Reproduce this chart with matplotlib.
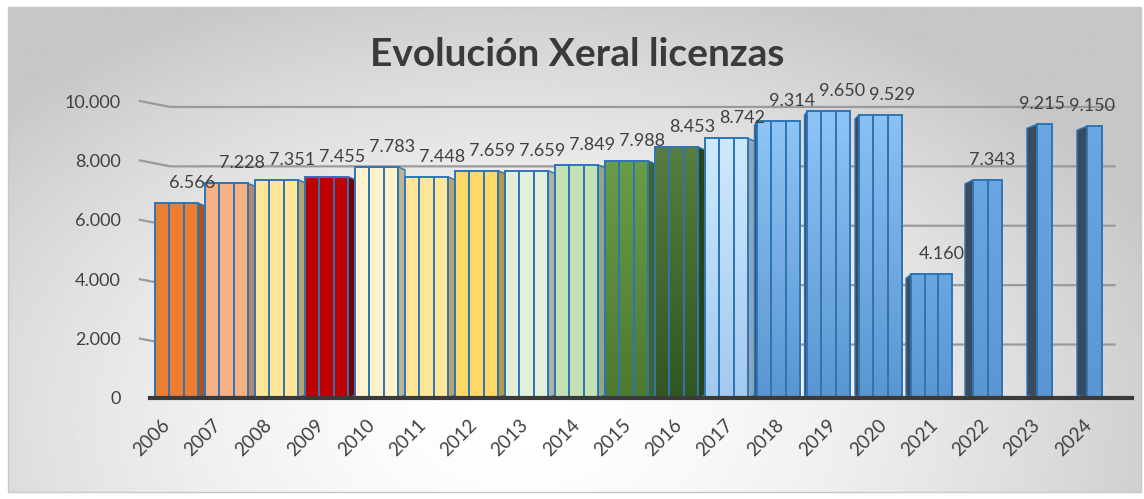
import numpy as np
import matplotlib.pyplot as plt
import matplotlib.transforms as mtransforms
from matplotlib.colors import LinearSegmentedColormap
from matplotlib.patches import Rectangle

# Chart data
years = ['2006', '2007', '2008', '2009', '2010', '2011', '2012', '2013', '2014', '2015',
         '2016', '2017', '2018', '2019', '2020', '2021', '2022', '2023', '2024']
licenzas = [6566, 7228, 7351, 7455, 7783, 7448, 7659, 7659, 7849, 7988,
            8453, 8742, 9314, 9650, 9529, 4160, 7343, 9215, 9150]
value_labels = ['6.566', '7.228', '7.351', '7.455', '7.783', '7.448', '7.659', '7.659', '7.849', '7.988',
                '8.453', '8.742', '9.314', '9.650', '9.529', '4.160', '7.343', '9.215', '9.150']
y_ticks = [0, 2000, 4000, 6000, 8000, 10000]
y_tick_labels = ['0', '2.000', '4.000', '6.000', '8.000', '10.000']

# bar fill colours (top, bottom) - same colour means flat fill
colors = [('#ED7D31', '#ED7D31'), ('#F4B183', '#F4B183'), ('#FFE699', '#FFE699'),
          ('#C00000', '#C00000'), ('#FFF2CC', '#FFF2CC'), ('#FFE699', '#FFE699'),
          ('#FFD966', '#FFD966'), ('#E2F0D9', '#E2F0D9'), ('#C5E0B4', '#C5E0B4'),
          ('#6A9C46', '#4C7A2F'), ('#587D3C', '#335520'), ('#CDE9FF', '#A3C9EF'),
          ('#8EC4F5', '#5B96D2'), ('#8EC4F5', '#5B96D2'), ('#8AC0F2', '#5B96D2'),
          ('#6AA7E0', '#5B96D2'), ('#6AA7E0', '#5B96D2'), ('#6AA7E0', '#5B96D2'),
          ('#6AA7E0', '#5B96D2')]
side_colors = ['#A55423', '#B9866A', '#B5A56E', '#7A0000', '#BDB493', '#B5A56E', '#B59B4A',
               '#A9B4A2', '#91A684', '#3F6328', '#2A4419', '#8BA6C0',
               '#3A4B60', '#3A4B60', '#3A4B60', '#3A4B60', '#3A4B60', '#3A4B60', '#3A4B60']

# pseudo-3D shapes: (front left, front right, side width, side on right?, stripes)
shapes = [(-0.44, 0.42, 0.14, True, 3)] * 12 + \
         [(-0.40, 0.46, 0.05, False, 3)] * 2 + \
         [(-0.36, 0.50, 0.08, False, 3), (-0.32, 0.50, 0.10, False, 3),
          (-0.08, 0.50, 0.16, False, 2), (0.20, 0.50, 0.20, False, 1),
          (0.20, 0.50, 0.20, False, 1)]

PX = 1 / 0.0297          # data units per pixel on y
text_col = '#404040'
edge_col = '#2E75B6'

fig = plt.figure(figsize=(11.44, 4.99), dpi=100)

# background: radial gray gradient inside a thin border
bg = fig.add_axes([0, 0, 1, 1], zorder=-2)
gx, gy = np.meshgrid(np.linspace(0, 1, 600), np.linspace(0, 1, 300))
r = np.sqrt(((gx - 0.45) / 0.62) ** 2 + ((gy - 0.85) / 0.95) ** 2)
shade = 1 - 0.22 * np.clip(r, 0, 1) ** 1.6
bg.imshow(shade, cmap='gray', vmin=0, vmax=1, aspect='auto',
          extent=[8 / 1144, 1141 / 1144, 7 / 499, 492 / 499], origin='upper')
bg.add_patch(Rectangle((8 / 1144, 7 / 499), 1133 / 1144, 485 / 499,
                       fill=False, edgecolor='#c8c8c8', lw=1))
bg.set_xlim(0, 1)
bg.set_ylim(0, 1)
bg.axis('off')

ax = fig.add_axes([140 / 1144, 101 / 499, 995 / 1144, 297 / 499])
ax.set_facecolor('none')
xlim = ((140 - 177) / 50, (1135 - 177) / 50)

# gridlines on the back wall, slanting in from the axis
back = 200
x0 = xlim[0]
x_in = x0 + 0.6
for t in y_ticks[1:]:
    ax.plot([x0, x_in, 18.75], [t, t - back, t - back], color='#9a9a9a', lw=1.6,
            zorder=1, clip_on=False)

# floor
ax.fill_between([x0 + 0.2, 18.9], [-back, -back], [0, 0], color='#c0c0c0', zorder=1)
ax.plot([x0 + 0.2, 19.1], [0, 0], color='#3a3a3a', lw=3, zorder=5, clip_on=False)

# bars
for i, v in enumerate(licenzas):
    a, b, s, right, n = shapes[i]
    a, b = i + a, i + b
    if right:
        side = [(b, 0), (b + s, 3 * PX), (b + s, v - 3 * PX), (b, v)]
    else:
        side = [(a, 0), (a - s, 3 * PX), (a - s, v - 4 * PX), (a, v)]
    sx, sy = zip(*side)
    ax.fill(sx, sy, facecolor=side_colors[i], edgecolor=edge_col, lw=1, zorder=2)
    top, bottom = colors[i]
    w = (b - a) / n
    for k in range(n):
        if top == bottom:
            ax.bar(a + k * w, v, width=w, align='edge', color=top,
                   edgecolor=edge_col, lw=1.4, zorder=3)
        else:
            cmap = LinearSegmentedColormap.from_list('g', [bottom, top])
            ax.imshow(np.linspace(0, 1, 50).reshape(-1, 1), cmap=cmap, origin='lower',
                      extent=[a + k * w, a + (k + 1) * w, 0, v], aspect='auto', zorder=3)
            ax.bar(a + k * w, v, width=w, align='edge', facecolor='none',
                   edgecolor=edge_col, lw=1.4, zorder=3.5)
    # value label
    ax.text(i + 0.3, v + 20 * PX, value_labels[i], ha='center', va='center',
            fontsize=13, color=text_col, family='Lato', zorder=6, clip_on=False)

ax.set_xlim(*xlim)
ax.set_ylim(0, 10000)

# axes styling
ax.set_yticks(y_ticks)
ax.set_yticklabels(y_tick_labels, fontsize=13, color=text_col, family='Lato')
ax.tick_params(axis='y', length=0, pad=14)
ax.set_xticks(range(len(years)))
ax.set_xticklabels(years, rotation=45, ha='right', va='top', rotation_mode='anchor',
                   fontsize=13.5, color=text_col, family='Lato')
ax.tick_params(axis='x', length=0, pad=13)
# the 3D floor spreads the year labels a little wider than the bars
for i, lab in enumerate(ax.get_xticklabels()):
    shift = mtransforms.ScaledTranslation(-0.16 + 0.012 * i, 0, fig.dpi_scale_trans)
    lab.set_transform(lab.get_transform() + shift)
for sp in ax.spines.values():
    sp.set_visible(False)

fig.text(577 / 1144, 1 - 55 / 499, 'Evolución Xeral licenzas', ha='center', va='center',
         fontsize=28, fontweight='bold', color='#3a3a3a', family='Lato')

fig.savefig('out.png', dpi=100)
